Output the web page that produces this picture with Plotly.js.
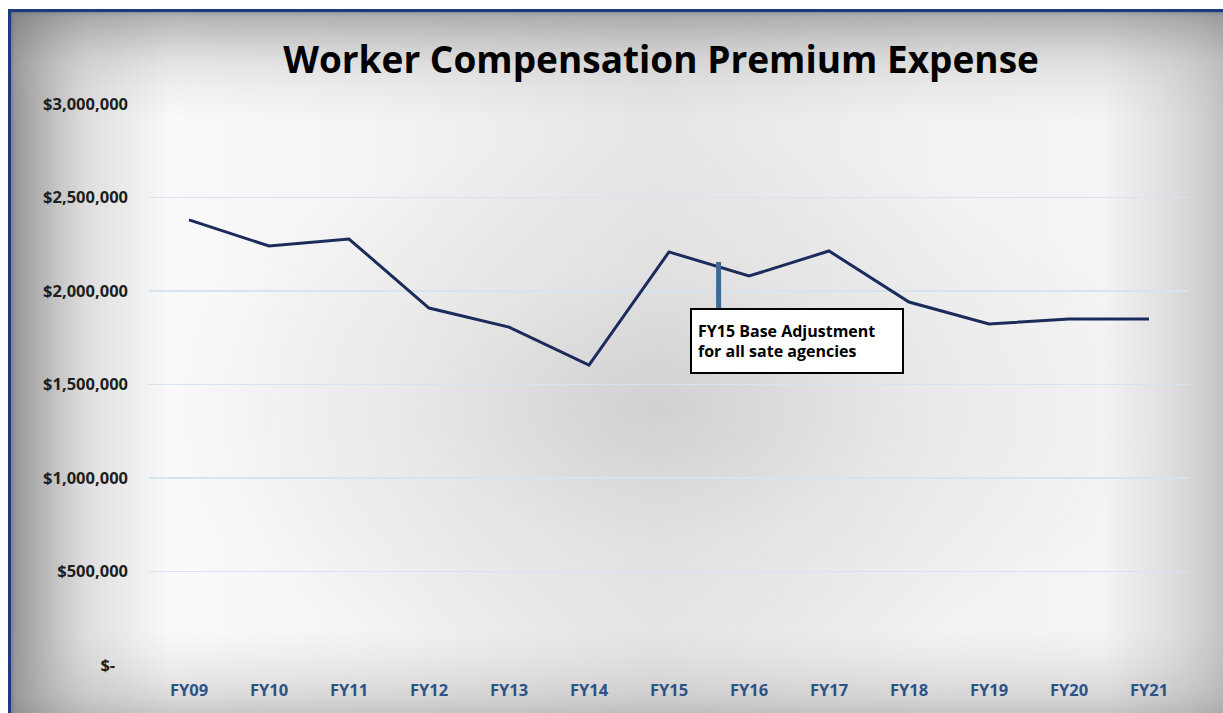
<!DOCTYPE html>
<html>
<head>
<meta charset="utf-8">
<script src="https://cdn.plot.ly/plotly-3.0.1.min.js"></script>
<style>
  html, body { margin: 0; padding: 0; background: #ffffff; width: 1223px; height: 713px; overflow: hidden; }
  #frame {
    position: absolute; left: 8px; top: 9px; width: 1240px; height: 720px;
    border-top: 3px solid #1d3b7c; border-left: 3px solid #1d3b7c;
    background:
      linear-gradient(to bottom, rgba(160,160,160,0.55) 0%, rgba(190,190,190,0.3) 7%, rgba(255,255,255,0) 15%, rgba(255,255,255,0) 86%, rgba(185,185,185,0.35) 95%, rgba(165,165,165,0.5) 100%),
      radial-gradient(ellipse 40% 38% at 52% 55%, rgba(195,195,195,0.6) 0%, rgba(215,215,215,0.35) 50%, rgba(255,255,255,0) 100%),
      linear-gradient(to right, #a8a8a8 0%, #dedede 6%, #fafafa 13%, #f3f3f3 30%, #e6e6e6 52%, #f2f2f2 75%, #f4f4f4 88%, #c4c4c4 100%);
    box-shadow: inset 0 0 70px rgba(0,0,0,0.25), inset 0 0 4px rgba(60,90,150,0.6);
  }
  #chart { position: absolute; left: 0; top: 0; width: 1223px; height: 713px; }
</style>
</head>
<body>
<div id="frame"></div>
<div id="chart"></div>
<script>
const categories = ['FY09','FY10','FY11','FY12','FY13','FY14','FY15','FY16','FY17','FY18','FY19','FY20','FY21'];
const premiumExpense = [2380000, 2241000, 2278000, 1909000, 1807000, 1604000, 2209000, 2080000, 2214000, 1941000, 1824000, 1850000, 1850000];
const yTickValues = [0, 500000, 1000000, 1500000, 2000000, 2500000, 3000000];
const yTickLabels = ['$-\u00a0\u00a0\u00a0', '$500,000', '$1,000,000', '$1,500,000', '$2,000,000', '$2,500,000', '$3,000,000'];
const chartTitle = 'Worker Compensation Premium Expense';
const noteText = '<b>FY15 Base Adjustment</b><br><b>for all sate agencies</b>';

const FONT = '"Open Sans", Lato, sans-serif';

const trace = {
  type: 'scatter', mode: 'lines',
  x: categories, y: premiumExpense,
  line: { color: '#1b2c5c', width: 3 },
  hoverinfo: 'skip'
};

const layout = {
  width: 1223, height: 713,
  paper_bgcolor: 'rgba(0,0,0,0)', plot_bgcolor: 'rgba(0,0,0,0)',
  margin: { l: 149, r: 34, t: 104, b: 48 },
  showlegend: false,
  font: { family: FONT },
  title: {
    text: '<b>' + chartTitle + '</b>',
    font: { family: FONT, size: 37, color: '#000000' },
    xref: 'container', yref: 'container', x: 0.5405, y: 1 - 60/713,
    xanchor: 'center', yanchor: 'middle'
  },
  xaxis: {
    type: 'category', range: [-0.5, 12.5],
    showgrid: false, zeroline: false, showline: false,
    ticks: '', ticklabelstandoff: 13,
    tickfont: { family: FONT, size: 16.5, color: '#2d5288', weight: 'bold' },
    fixedrange: true
  },
  yaxis: {
    range: [0, 3000000],
    tickvals: yTickValues, ticktext: yTickLabels,
    showgrid: true, gridcolor: '#d8e3f0', gridwidth: 1.5,
    zeroline: false, showline: false, ticks: '', ticklabelstandoff: 20,
    tickfont: { family: FONT, size: 16.5, color: '#1e1e1e', weight: 'bold' },
    fixedrange: true
  },
  annotations: [
    {
      x: 6.62, y: 2155000, xref: 'x', yref: 'y',
      text: '', showarrow: true,
      axref: 'pixel', ayref: 'pixel', ax: 0, ay: 48,
      arrowhead: 0, arrowwidth: 5, arrowcolor: '#3f6a93', standoff: 0
    },
    {
      x: 7.6, y: 1733000, xref: 'x', yref: 'y',
      text: noteText, showarrow: false, align: 'left',
      font: { family: FONT, size: 16, color: '#000000' },
      bgcolor: '#ffffff', bordercolor: '#000000', borderwidth: 2, borderpad: 6,
      width: 198, height: 50
    }
  ]
};

Plotly.newPlot('chart', [trace], layout, { displayModeBar: false, staticPlot: true });
</script>
</body>
</html>
